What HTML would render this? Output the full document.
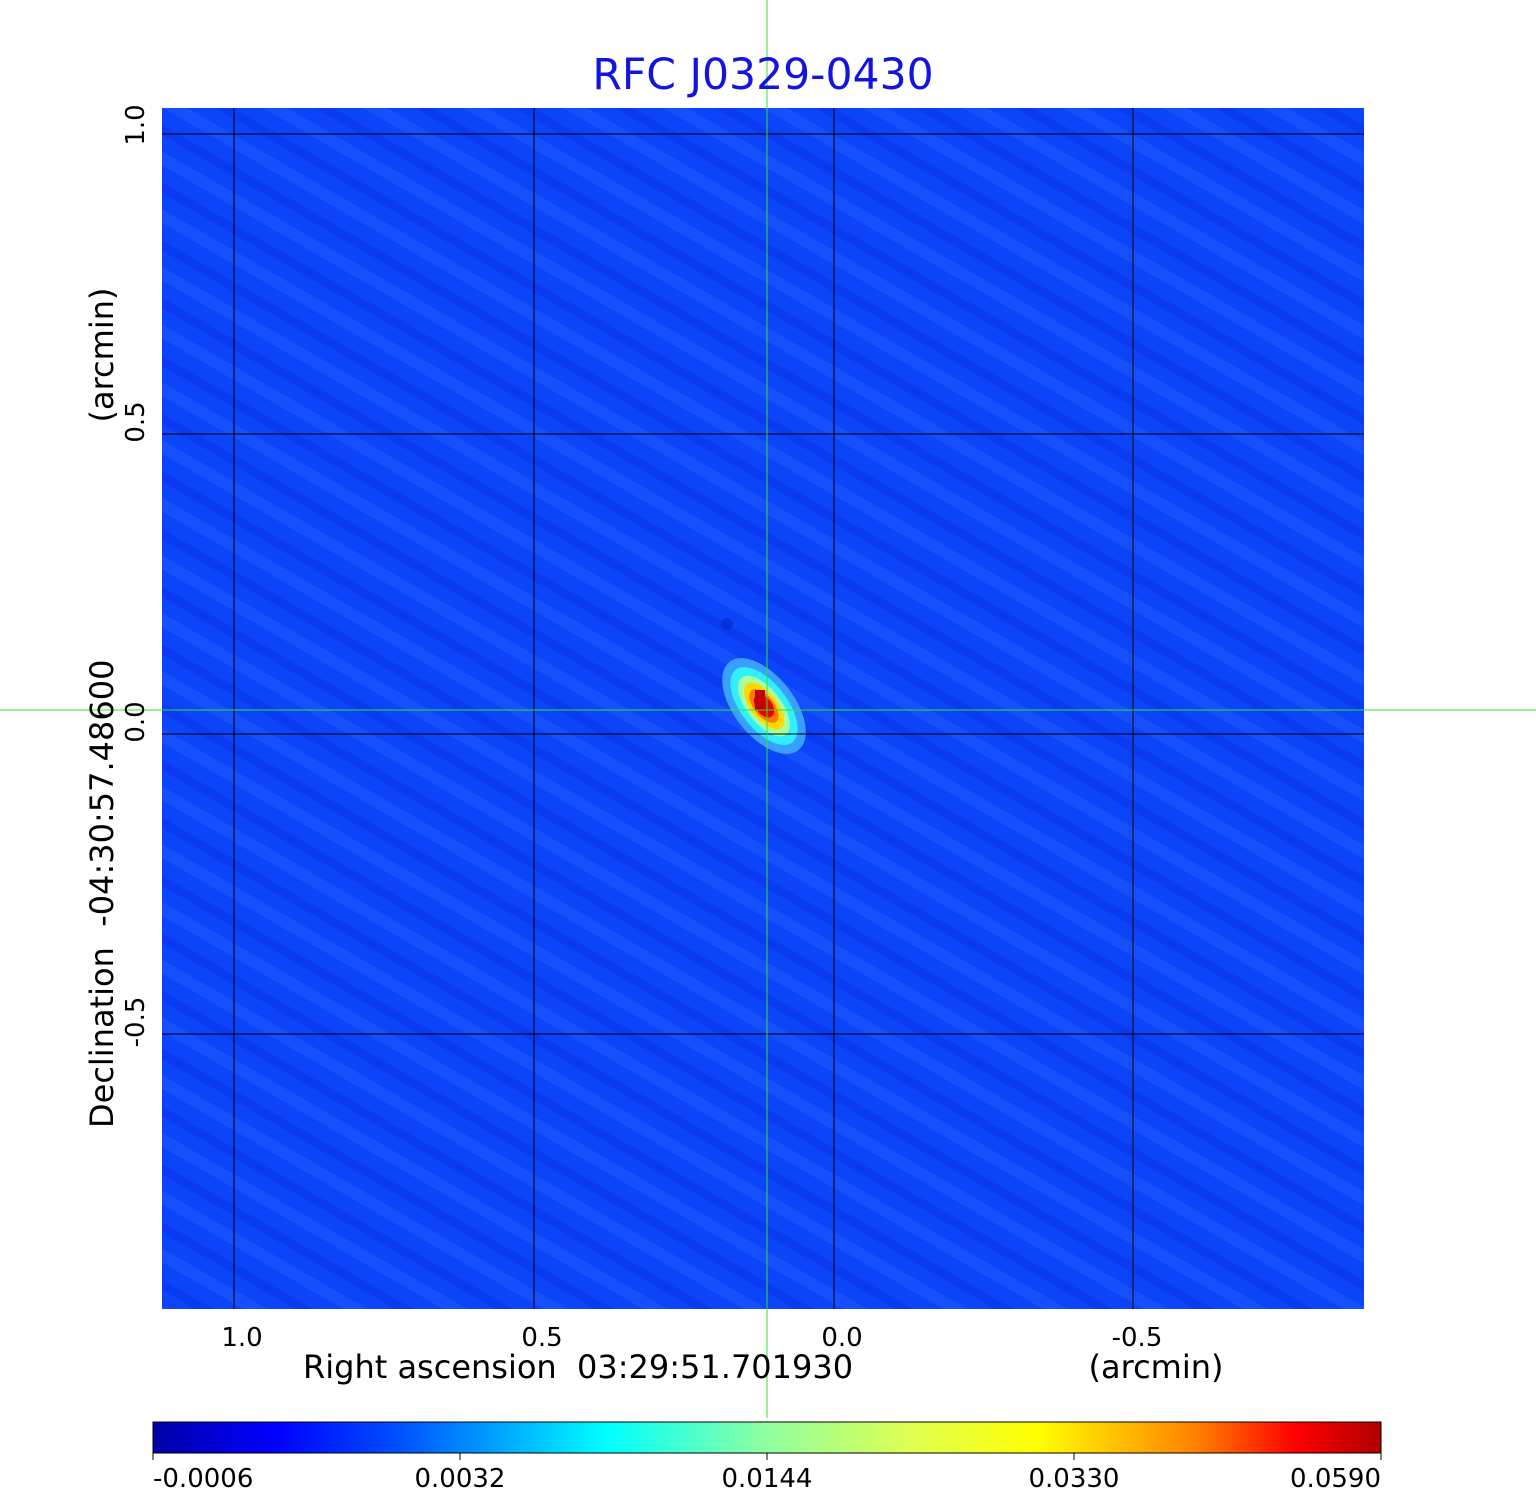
<!DOCTYPE html>
<html><head><meta charset="utf-8"><style>
body{margin:0;background:#fff;width:1536px;height:1511px;overflow:hidden;position:relative;font-family:"DejaVu Sans","Liberation Sans",sans-serif}
</style></head><body>
<svg width="1536" height="1511" style="position:absolute;left:0;top:0">
<defs>
<pattern id="st" width="50" height="50" patternUnits="userSpaceOnUse" patternTransform="rotate(30)">
<rect width="50" height="50" fill="#0c44fa"/>
<rect y="0" width="50" height="12" fill="#1650fc"/>
<rect y="27" width="50" height="9" fill="#0a3bf2"/>
</pattern>
<linearGradient id="cb">
<stop offset="0" stop-color="#0000a8"/>
<stop offset="0.1" stop-color="#0000ff"/>
<stop offset="0.2" stop-color="#0050ff"/>
<stop offset="0.37" stop-color="#00ffff"/>
<stop offset="0.5" stop-color="#90ffa0"/>
<stop offset="0.62" stop-color="#e0ff50"/>
<stop offset="0.72" stop-color="#ffff00"/>
<stop offset="0.85" stop-color="#ff8000"/>
<stop offset="0.93" stop-color="#ff0000"/>
<stop offset="1" stop-color="#b00000"/>
</linearGradient>
</defs>
<rect x="162" y="108" width="1202" height="1201" fill="url(#st)"/>
<g transform="translate(764,706) rotate(52)">
<ellipse rx="56" ry="30" fill="#3aa0ff"/>
<ellipse rx="46" ry="23" fill="#30f0ff"/>
<ellipse rx="36" ry="17" fill="#a8ffa0"/>
<ellipse rx="28" ry="13" fill="#ffd800"/>
<ellipse rx="20" ry="10" fill="#ff7a00"/>
<ellipse rx="13" ry="8" fill="#e80000"/>
</g>
<rect x="755" y="690" width="10" height="20" fill="#c00000"/>
<circle cx="727" cy="624" r="6" fill="#0828c8" opacity="0.6"/>
<g stroke="#000" stroke-width="1">
<line x1="234" y1="108" x2="234" y2="1309"/><line x1="534" y1="108" x2="534" y2="1309"/>
<line x1="834" y1="108" x2="834" y2="1309"/><line x1="1133" y1="108" x2="1133" y2="1309"/>
<line x1="162" y1="134" x2="1364" y2="134"/><line x1="162" y1="434" x2="1364" y2="434"/>
<line x1="162" y1="734" x2="1364" y2="734"/><line x1="162" y1="1034" x2="1364" y2="1034"/>
</g>
<rect x="153" y="1422" width="1228" height="31" fill="url(#cb)" stroke="#000" stroke-width="1"/>
<g stroke="#000"><line x1="153" y1="1453" x2="153" y2="1460"/><line x1="460" y1="1453" x2="460" y2="1460"/><line x1="767" y1="1453" x2="767" y2="1460"/><line x1="1074" y1="1453" x2="1074" y2="1460"/><line x1="1381" y1="1453" x2="1381" y2="1460"/></g>
<line x1="767" y1="0" x2="767" y2="1418" stroke="#30e030" stroke-width="1"/>
<line x1="0" y1="710" x2="1536" y2="710" stroke="#30e030" stroke-width="1"/>
<g font-size="26" fill="#000" font-family="DejaVu Sans,Liberation Sans,sans-serif">
<text x="242" y="1346" text-anchor="middle">1.0</text>
<text x="542" y="1346" text-anchor="middle">0.5</text>
<text x="842" y="1346" text-anchor="middle">0.0</text>
<text x="1137" y="1346" text-anchor="middle">-0.5</text>
<text transform="translate(144,125) rotate(-90)" text-anchor="middle">1.0</text>
<text transform="translate(144,422) rotate(-90)" text-anchor="middle">0.5</text>
<text transform="translate(144,722) rotate(-90)" text-anchor="middle">0.0</text>
<text transform="translate(144,1022) rotate(-90)" text-anchor="middle">-0.5</text>
<text x="153" y="1487">-0.0006</text>
<text x="460" y="1487" text-anchor="middle">0.0032</text>
<text x="767" y="1487" text-anchor="middle">0.0144</text>
<text x="1074" y="1487" text-anchor="middle">0.0330</text>
<text x="1381" y="1487" text-anchor="end">0.0590</text>
</g>
<g font-size="32" fill="#000" font-family="DejaVu Sans,Liberation Sans,sans-serif">
<text x="303" y="1378" xml:space="preserve">Right ascension  03:29:51.701930</text>
<text x="1156" y="1378" text-anchor="middle">(arcmin)</text>
<text transform="translate(113,1128) rotate(-90)" xml:space="preserve">Declination  -04:30:57.48600</text>
<text transform="translate(113,355) rotate(-90)" text-anchor="middle">(arcmin)</text>
</g>
<text x="763" y="89" font-size="42.5" fill="#1414e0" text-anchor="middle" font-family="DejaVu Sans,Liberation Sans,sans-serif">RFC J0329-0430</text>
</svg>
</body></html>
